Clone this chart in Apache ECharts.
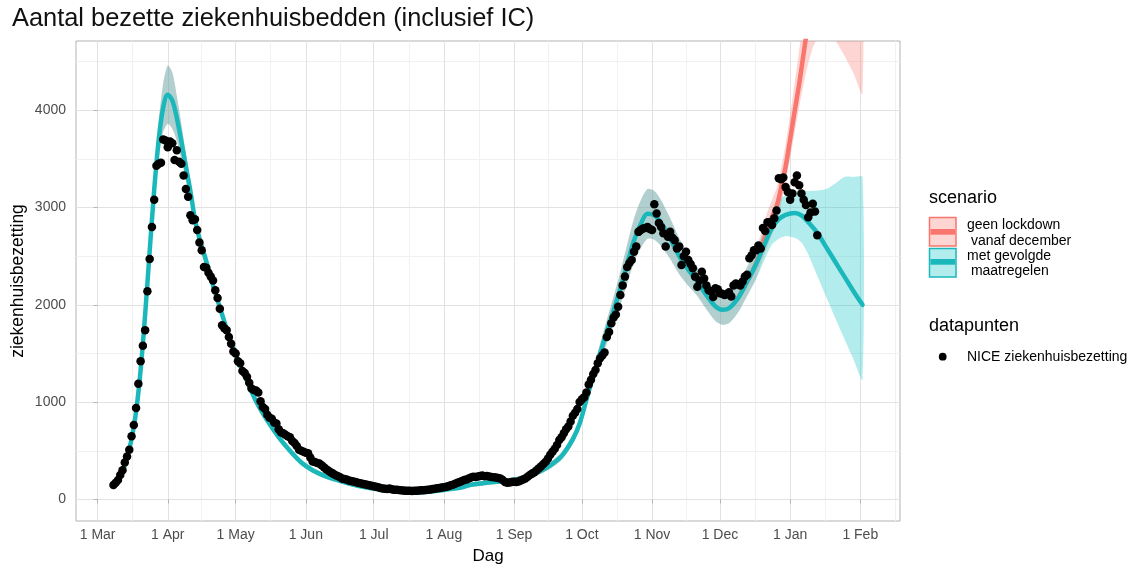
<!DOCTYPE html>
<html><head><meta charset="utf-8">
<script src="https://cdn.jsdelivr.net/npm/echarts@6/dist/echarts.min.js"></script>
<style>html,body{margin:0;padding:0;background:#fff}#c{width:1136px;height:569px}</style>
</head><body><div id="c"></div>
<script>
// x values are days since 1 Mar 2020
const monthTicks = [0, 31, 61, 92, 122, 153, 184, 214, 245, 275, 306, 337];
const monthLabels = ['1 Mar', '1 Apr', '1 May', '1 Jun', '1 Jul', '1 Aug', '1 Sep', '1 Oct', '1 Nov', '1 Dec', '1 Jan', '1 Feb'];
const minorXTicks = [15.5, 46, 76.5, 107, 137.5, 168.5, 199, 229.5, 260, 290.5, 321.5, 352.5];
const yTicks = [0, 1000, 2000, 3000, 4000];
const minorYTicks = [500, 1500, 2500, 3500, 4500];

// NICE ziekenhuisbezetting, daily from day 7 (8 Mar 2020)
const obsFirstDay = 7;
const obsValues = [
  147,170,200,250,300,380,440,510,650,765,
  940,1190,1420,1580,1740,2140,2470,2800,3080,3430,
  3450,3460,3700,3690,3620,3680,3660,3490,3590,3470,
  3450,3330,3190,3110,2920,2870,2880,2770,2640,2560,
  2390,2380,2330,2290,2250,2150,2070,1960,1790,1760,
  1740,1670,1600,1520,1500,1420,1400,1320,1300,1260,
  1200,1140,1125,1120,1100,1010,950,930,870,840,
  830,790,780,720,690,680,665,650,640,600,
  580,550,510,500,490,480,475,430,390,385,
  375,370,350,330,310,295,280,265,250,240,
  230,215,210,205,195,190,185,180,172,165,
  160,157,150,145,140,135,130,125,118,113,
  110,108,112,105,100,98,96,94,92,90,
  88,88,86,90,88,92,95,94,96,100,
  102,108,110,115,118,122,125,130,135,145,
  150,160,170,180,190,200,205,215,225,232,
  230,235,240,245,238,240,235,230,228,225,
  220,216,200,180,172,175,178,182,180,185,
  195,205,215,232,250,265,280,300,320,340,
  365,386,420,460,490,520,560,610,640,680,
  720,750,800,860,890,930,1000,1030,1050,1100,
  1180,1230,1290,1330,1400,1450,1480,1510,1670,1720,
  1810,1870,1900,1980,2100,2200,2290,2390,2430,2460,
  2545,2600,2750,2770,2785,2790,2800,2780,2770,3035,
  2940,2840,2800,2735,2600,2700,2750,2690,2665,2580,
  2600,2410,2500,2545,2460,2420,2375,2290,2185,2250,
  2340,2270,2200,2150,2140,2080,2170,2160,2120,2115,
  2100,2110,2130,2085,2200,2220,2210,2200,2240,2290,
  2310,2480,2510,2560,2560,2610,2580,2790,2760,2850,
  2850,2820,2890,2970,3300,3290,3310,3210,3160,3080,
  3145,3260,3330,3230,3145,3080,3025,2900,2950,3040,
  2960,2715
];

// scenario "met gevolgde maatregelen": fit + ribbon
const tealDays = [7,9,11,13,15,17,19,21,23,25,27,29,31,33,35,37,39,41,43,45,48,51,55,60,65,70,75,80,85,90,95,100,105,110,115,120,125,130,135,140,145,150,155,160,165,170,175,180,185,190,195,200,205,210,213,217,220,224,228,231,234,237,240,243,246,249,253,257,261,265,269,273,276,279,283,287,291,295,298,301,304,308,311,314,318,322,326,330,334,338];
const tealFit = [130,190,290,430,620,900,1330,1900,2550,3180,3700,4030,4160,4100,3920,3680,3420,3170,2880,2680,2450,2200,1900,1550,1270,1010,810,640,500,380,300,245,205,170,140,118,100,85,75,72,76,88,105,120,150,165,180,190,205,235,285,350,445,620,780,1110,1340,1650,1940,2170,2420,2660,2830,2935,2920,2840,2680,2500,2360,2240,2100,1985,1950,1965,2070,2240,2420,2640,2790,2880,2925,2945,2920,2850,2740,2590,2440,2290,2140,2000];
const tealLow = [110,170,265,400,585,855,1275,1830,2455,3050,3510,3780,3860,3810,3690,3500,3280,3060,2790,2600,2380,2140,1845,1500,1225,970,775,608,470,352,274,220,181,148,120,98,80,65,55,52,56,68,85,98,128,141,155,164,177,205,253,315,405,570,720,1035,1250,1535,1795,2000,2220,2435,2585,2680,2670,2605,2470,2315,2195,2090,1955,1835,1795,1810,1920,2090,2265,2480,2620,2680,2705,2690,2640,2520,2300,2080,1860,1650,1440,1230];
const tealHigh = [150,210,315,460,655,945,1385,1970,2645,3310,3890,4280,4460,4390,4150,3860,3560,3280,2970,2760,2520,2260,1955,1600,1315,1050,845,672,530,408,326,270,229,192,160,138,120,105,95,92,96,108,125,142,172,189,205,216,233,265,317,385,485,670,840,1185,1430,1765,2085,2340,2620,2885,3075,3190,3170,3075,2890,2685,2525,2390,2245,2135,2105,2120,2220,2390,2575,2800,2960,3080,3130,3165,3175,3170,3175,3190,3250,3315,3315,3315];

// scenario "geen lockdown vanaf december": where it departs from the fit
const redDays = [283,287,291,294,296,298,300,302,304,306,308,310,312,314,316,318,320,322,324,326,330,334,338];
const redFit = [2070,2240,2430,2640,2780,2900,3010,3200,3420,3700,3990,4270,4590,4900,5200,5480,5750,5980,6150,6280,6400,6420,6380];
const redLow = [1920,2090,2275,2480,2600,2720,2840,3030,3260,3510,3770,4030,4270,4480,4640,4740,4800,4820,4790,4720,4560,4380,4170];
const redHigh = [2220,2390,2585,2800,2960,3080,3200,3400,3650,3950,4280,4620,4980,5330,5650,5950,6250,6500,6700,6900,7200,7400,7600];

const FONT = '"Liberation Sans", Arial, Helvetica, sans-serif';
const pairs = (xs, ys) => xs.map((x, i) => [x, ys[i]]);
const triples = (xs, lo, hi) => xs.map((x, i) => [x, lo[i], hi[i]]);
const obsData = obsValues.map((v, i) => [obsFirstDay + i, v]);
// red ribbon coincides with the fitted ribbon before divergence
const sharedIdx = tealDays.map((d, i) => i).filter(i => tealDays[i] < redDays[0]);
const redAllDays = sharedIdx.map(i => tealDays[i]).concat(redDays);
const redAllLow = sharedIdx.map(i => tealLow[i]).concat(redLow);
const redAllHigh = sharedIdx.map(i => tealHigh[i]).concat(redHigh);

const RED = '#f8766d', TEAL = '#1ab7bb';

// ribbon: one polygon through upper bounds and back along lower bounds
function ribbon(name, xs, lo, hi, color) {
  return {
    type: 'custom', name: name, silent: true, z: 1, clip: true,
    data: triples(xs, lo, hi),
    encode: { x: 0, y: [1, 2] },
    renderItem: function (params, api) {
      if (params.dataIndexInside !== 0) return null;
      const n = params.dataInsideLength;
      const up = [], down = [];
      for (let j = 0; j < n; j++) {
        const x = api.value(0, j);
        up.push(api.coord([x, api.value(2, j)]));
        down.push(api.coord([x, api.value(1, j)]));
      }
      const pts = up.concat(down.reverse());
      return { type: 'polygon', shape: { points: pts, smooth: 0.25 }, style: { fill: color } };
    }
  };
}
function fitLine(name, xs, ys, color) {
  return { type: 'line', name: name, data: pairs(xs, ys), symbol: 'none', smooth: 0.35,
    lineStyle: { color: color, width: 4.5, cap: 'round', join: 'round' }, z: 2, silent: true };
}

const gridLines = []
  .concat(minorXTicks.map(v => ({ xAxis: v, lineStyle: { color: '#f1f1f1', width: 1, type: 'solid' } })))
  .concat(minorYTicks.map(v => ({ yAxis: v, lineStyle: { color: '#f1f1f1', width: 1, type: 'solid' } })))
  .concat(monthTicks.map(v => ({ xAxis: v, lineStyle: { color: '#e2e2e2', width: 1, type: 'solid' } })))
  .concat(yTicks.map(v => ({ yAxis: v, lineStyle: { color: '#e2e2e2', width: 1, type: 'solid' } })));

const chart = echarts.init(document.getElementById('c'), null, { renderer: 'canvas' });
chart.setOption({
  animation: false,
  backgroundColor: '#ffffff',
  textStyle: { fontFamily: FONT },
  grid: { left: 76, right: 236, top: 41, bottom: 48, show: true, borderColor: '#b3b3b3', borderWidth: 1, backgroundColor: '#ffffff' },
  xAxis: {
    type: 'value', min: -9.55, max: 354.55,
    axisLine: { show: false },
    splitLine: { show: false },
    axisTick: { show: true, length: 4, lineStyle: { color: '#b3b3b3' }, customValues: monthTicks },
    axisLabel: { customValues: monthTicks, margin: 7, color: '#4d4d4d', fontSize: 14, fontFamily: FONT,
      formatter: v => monthLabels[monthTicks.indexOf(v)] || '' }
  },
  yAxis: {
    type: 'value', min: -222, max: 4712,
    axisLine: { show: false },
    splitLine: { show: false },
    axisTick: { show: true, length: 4, lineStyle: { color: '#b3b3b3' }, customValues: yTicks },
    axisLabel: { customValues: yTicks, margin: 10, color: '#4d4d4d', fontSize: 14, fontFamily: FONT,
      formatter: v => String(v) }
  },
  series: [
    { type: 'line', data: [], silent: true, z: 0, zlevel: 0,
      markLine: { z: 0, silent: true, symbol: ['none', 'none'], label: { show: false }, animation: false, data: gridLines } },
    ribbon('geen lockdown vanaf december (band)', redAllDays, redAllLow, redAllHigh, 'rgba(248,118,109,0.3)'),
    ribbon('met gevolgde maatregelen (band)', tealDays, tealLow, tealHigh, 'rgba(0,191,196,0.3)'),
    fitLine('geen lockdown vanaf december', redDays, redFit, RED),
    fitLine('met gevolgde maatregelen', tealDays, tealFit, TEAL),
    { type: 'scatter', name: 'NICE ziekenhuisbezetting', data: obsData, symbol: 'circle', symbolSize: 8.5,
      itemStyle: { color: '#000000', opacity: 1 }, z: 6, silent: true }
  ],
  graphic: [
    { type: 'text', x: 12, y: 19, style: { text: 'Aantal bezette ziekenhuisbedden (inclusief IC)', font: '25.4px ' + FONT, fill: '#111', align: 'left', verticalAlign: 'middle' } },
    { type: 'text', x: 488, y: 556, style: { text: 'Dag', font: '17px ' + FONT, fill: '#000', align: 'center', verticalAlign: 'middle' } },
    { type: 'text', x: 18, y: 281, rotation: Math.PI / 2, style: { text: 'ziekenhuisbezetting', font: '17.5px ' + FONT, fill: '#000', align: 'center', verticalAlign: 'middle' } },
    { type: 'text', x: 929, y: 198, style: { text: 'scenario', font: '18px ' + FONT, fill: '#000', align: 'left', verticalAlign: 'middle' } },
    { type: 'rect', shape: { x: 929.5, y: 217.5, width: 26.5, height: 28.5 }, style: { fill: 'rgba(248,118,109,0.3)', stroke: RED, lineWidth: 1.5 } },
    { type: 'rect', shape: { x: 930.5, y: 229, width: 24.5, height: 5.7 }, style: { fill: RED } },
    { type: 'rect', shape: { x: 929.5, y: 248.5, width: 26.5, height: 28.5 }, style: { fill: 'rgba(0,191,196,0.3)', stroke: TEAL, lineWidth: 1.5 } },
    { type: 'rect', shape: { x: 930.5, y: 259, width: 24.5, height: 5.7 }, style: { fill: TEAL } },
    { type: 'text', x: 967, y: 225, style: { text: 'geen lockdown', font: '14px ' + FONT, fill: '#000', align: 'left', verticalAlign: 'middle' } },
    { type: 'text', x: 967, y: 241, style: { text: ' vanaf december', font: '14px ' + FONT, fill: '#000', align: 'left', verticalAlign: 'middle' } },
    { type: 'text', x: 967, y: 256.5, style: { text: 'met gevolgde', font: '14px ' + FONT, fill: '#000', align: 'left', verticalAlign: 'middle' } },
    { type: 'text', x: 967, y: 271.5, style: { text: ' maatregelen', font: '14px ' + FONT, fill: '#000', align: 'left', verticalAlign: 'middle' } },
    { type: 'text', x: 929, y: 326, style: { text: 'datapunten', font: '18px ' + FONT, fill: '#000', align: 'left', verticalAlign: 'middle' } },
    { type: 'circle', shape: { cx: 942.7, cy: 356.7, r: 3.9 }, style: { fill: '#000' } },
    { type: 'text', x: 967, y: 357, style: { text: 'NICE ziekenhuisbezetting', font: '14px ' + FONT, fill: '#000', align: 'left', verticalAlign: 'middle' } }
  ]
});
</script>
</body></html>
